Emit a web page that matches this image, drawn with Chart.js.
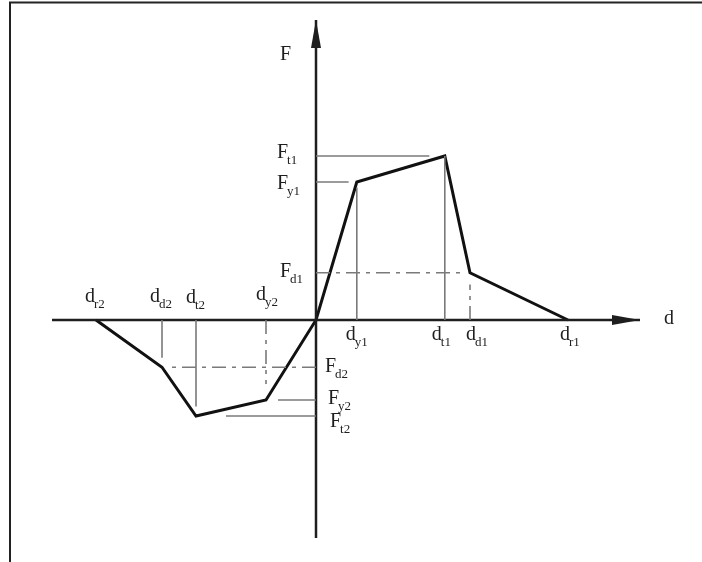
<!DOCTYPE html>
<html>
<head>
<meta charset="utf-8">
<script src="https://cdn.jsdelivr.net/npm/chart.js@4/dist/chart.umd.min.js"></script>
<style>
  body { margin: 0; background: #fff; }
  #wrap { width: 702px; height: 562px; }
</style>
</head>
<body>
<div id="wrap"><canvas id="backbone" width="702" height="562"></canvas></div>
<script>
// backbone points, left to right: d_r2, d_d2, d_t2, d_y2, 0, d_y1, d_t1, d_d1, d_r1
const dValues = [-55, -38.5, -30, -12.5, 0, 10.2, 32.2, 38.5, 63];
const fValues = [0, -11.8, -24, -20, 0, 34.5, 41, 11.8, 0];
const dLabels = ["r2", "d2", "t2", "y2", null, "y1", "t1", "d1", "r1"];
const fLabels = ["d2", "t2", "y2", "t1", "y1", "d1"];
const axisD = [-66, 81];
const axisF = [-54.5, 75];

const gray = "#7a7a7a";
const ink = "#1e1e1e";

// guide lines: [x1, y1, x2, y2, dashed]
function guides() {
  const p = i => [dValues[i], fValues[i]];
  const [dd2, fd2] = p(1), [dt2, ft2] = p(2), [dy2, fy2] = p(3);
  const [dy1, fy1] = p(5), [dt1, ft1] = p(6), [dd1, fd1] = p(7);
  return [
    [0, ft1, dt1 * 0.88, ft1, false],
    [dt1, 0, dt1, ft1, false],
    [0, fy1, dy1 * 0.8, fy1, false],
    [dy1, 0, dy1, fy1 * 0.96, false],
    [0, fd1, dd1 * 0.97, fd1, true],
    [dd1, 0, dd1, fd1 * 0.75, true],
    [0, fd2, dd2 * 0.95, fd2, true],
    [dd2, 0, dd2, fd2 * 0.8, false],
    [dt2, 0, dt2, ft2 * 0.9, false],
    [dy2, 0, dy2, fy2 * 0.8, true],
    [0, fy2, dy2 * 0.76, fy2, false],
    [0, ft2, dt2 * 0.75, ft2, false]
  ];
}

const datasets = [];
guides().forEach(g => {
  datasets.push({
    data: [{ x: g[0], y: g[1] }, { x: g[2], y: g[3] }],
    borderColor: gray,
    borderWidth: 1.6,
    borderDash: g[4] ? [14, 6, 4, 6] : [],
    pointRadius: 0
  });
});
// axes
datasets.push({ data: [{ x: axisD[0], y: 0 }, { x: axisD[1], y: 0 }], borderColor: ink, borderWidth: 2.5, pointRadius: 0 });
datasets.push({ data: [{ x: 0, y: axisF[0] }, { x: 0, y: axisF[1] }], borderColor: ink, borderWidth: 2.5, pointRadius: 0 });
// backbone curve
datasets.push({
  data: dValues.map((d, i) => ({ x: d, y: fValues[i] })),
  borderColor: "#111",
  borderWidth: 3,
  pointRadius: 0,
  borderJoinStyle: "miter"
});

function subText(ctx, base, s, x, y) {
  ctx.font = '20px "Liberation Serif"';
  ctx.fillText(base, x, y);
  const w = ctx.measureText(base).width;
  if (s) {
    ctx.font = '13px "Liberation Serif"';
    ctx.fillText(s, x + w - 1, y + 6);
  }
}

const decor = {
  id: "decor",
  afterDatasetsDraw(chart) {
    const ctx = chart.ctx, xs = chart.scales.x, ys = chart.scales.y;
    const x0 = xs.getPixelForValue(0), y0 = ys.getPixelForValue(0);
    ctx.save();
    ctx.fillStyle = ink;
    // arrowheads
    const tipX = xs.getPixelForValue(axisD[1]);
    ctx.beginPath();
    ctx.moveTo(tipX, y0);
    ctx.lineTo(tipX - 28, y0 - 5);
    ctx.lineTo(tipX - 28, y0 + 5);
    ctx.closePath();
    ctx.fill();
    const tipY = ys.getPixelForValue(axisF[1]);
    ctx.beginPath();
    ctx.moveTo(x0, tipY);
    ctx.lineTo(x0 - 5, tipY + 28);
    ctx.lineTo(x0 + 5, tipY + 28);
    ctx.closePath();
    ctx.fill();

    // frame
    ctx.strokeStyle = "#222";
    ctx.lineWidth = 2;
    ctx.beginPath();
    ctx.moveTo(10, chart.height);
    ctx.lineTo(10, 2.5);
    ctx.lineTo(chart.width, 2.5);
    ctx.stroke();

    // axis names
    ctx.textBaseline = "alphabetic";
    subText(ctx, "F", null, x0 - 36, tipY + 40);
    subText(ctx, "d", null, tipX + 24, y0 + 4);

    // d labels
    const dOff = { r2: [-11, -18], d2: [-12, -18], t2: [-10, -17], y2: [-10, -20],
                   y1: [-11, 20], t1: [-13, 20], d1: [-4, 20], r1: [-8, 20] };
    dValues.forEach((d, i) => {
      const s = dLabels[i];
      if (!s) return;
      const o = dOff[s];
      subText(ctx, "d", s, xs.getPixelForValue(d) + o[0], y0 + o[1]);
    });

    // F labels
    const fIdx = { d2: 1, t2: 2, y2: 3, t1: 6, y1: 5, d1: 7 };
    const fOff = { t1: [-39, 2], y1: [-39, 7], d1: [-36, 4],
                   d2: [9, 5], y2: [12, 4], t2: [14, 11] };
    fLabels.forEach(s => {
      const o = fOff[s];
      subText(ctx, "F", s, x0 + o[0], ys.getPixelForValue(fValues[fIdx[s]]) + o[1]);
    });
    ctx.restore();
  }
};

new Chart(document.getElementById("backbone").getContext("2d"), {
  type: "line",
  data: { datasets: datasets },
  options: {
    responsive: false,
    animation: false,
    layout: { padding: 0 },
    elements: { line: { tension: 0 } },
    scales: {
      x: { type: "linear", min: -79, max: 96.5, display: false },
      y: { type: "linear", min: -60.5, max: 80, display: false }
    },
    plugins: {
      legend: { display: false },
      tooltip: { enabled: false }
    }
  },
  plugins: [decor]
});
</script>
</body>
</html>
